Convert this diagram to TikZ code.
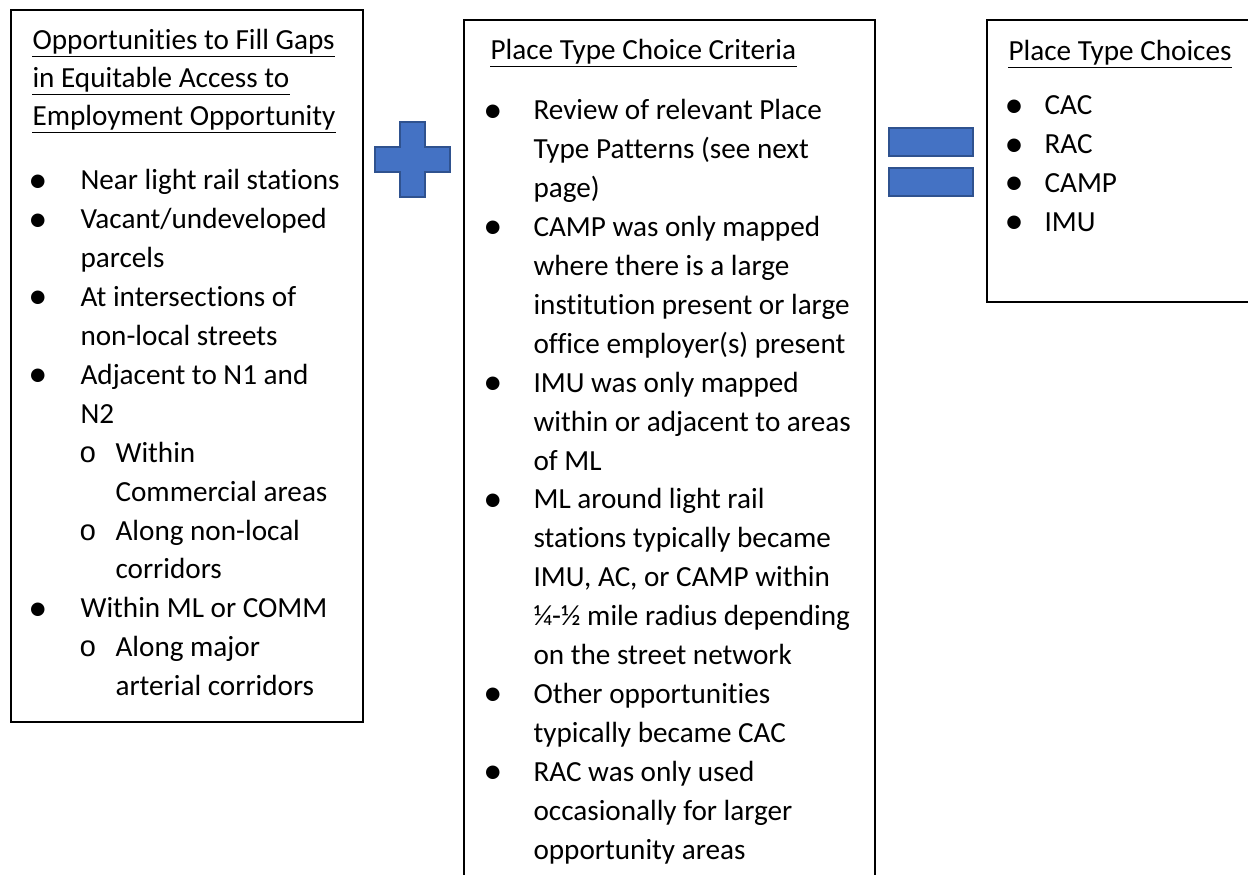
\documentclass[tikz,border=0pt]{standalone}
\usepackage{fontspec}
\setmainfont{Carlito}[Ligatures=NoCommon]
\newfontfamily\monof{Liberation Mono}
\definecolor{shapefill}{HTML}{4472C4}
\definecolor{shapeline}{HTML}{2F528F}
\newcommand\fsz{\fontsize{10.7}{13}\selectfont}
\tikzset{
  txt/.style={anchor=base west, inner sep=0pt, font=\fsz},
  bul/.style={anchor=base, inner sep=0pt, yshift=-0.8pt, font=\fontsize{14}{14}\selectfont},
  subbul/.style={anchor=base, inner sep=0pt, font=\fsz\monof},
  frame/.style={draw=black, line width=0.8pt},
  uline/.style={draw=black, line width=0.5pt},
  sym/.style={fill=shapefill, draw=shapeline, line width=0.7pt}
}
\begin{document}
\begin{tikzpicture}[x=0.3667pt,y=-0.3667pt]
\useasboundingbox (0,0) rectangle (1248,875);
\clip (0,0) rectangle (1248,875);
% frames
\draw[frame] (11,10) rectangle (363,722);
\draw[frame] (464,20) rectangle (875,900);
\draw[frame] (987,20) rectangle (1260,302);
% plus
\draw[sym] (400,122) -- (425,122) -- (425,147) -- (450,147) -- (450,172) -- (425,172) -- (425,197) -- (400,197) -- (400,172) -- (375,172) -- (375,147) -- (400,147) -- cycle;
% equals
\draw[sym] (889,128) rectangle (973,156);
\draw[sym] (889,168) rectangle (973,196);
% box 1
\node[txt] (t1a) at (32,50) {Opportunities to Fill Gaps};
\node[txt] (t1b) at (32,88) {in Equitable Access to};
\node[txt] (t1c) at (32,126) {Employment Opportunity};
\foreach \n in {t1a,t1b,t1c}{\draw[uline] ([yshift=-2.4pt]\n.base west) -- ([yshift=-2.4pt]\n.base east);}
\node[bul] (b1a) at (38,190) {\textbullet};
\node[txt] (l1a) at (80,190) {Near light rail stations};
\node[bul] (b1b) at (38,228.9) {\textbullet};
\node[txt] (l1b) at (80,228.9) {Vacant/undeveloped};
\node[txt] (l1c) at (80,267.8) {parcels};
\node[bul] (b1d) at (38,306.7) {\textbullet};
\node[txt] (l1d) at (80,306.7) {At intersections of};
\node[txt] (l1e) at (80,345.6) {non-local streets};
\node[bul] (b1f) at (38,384.5) {\textbullet};
\node[txt] (l1f) at (80,384.5) {Adjacent to N1 and};
\node[txt] (l1g) at (80,423.4) {N2};
\node[subbul] (s1h) at (88,462.3) {o};
\node[txt] (l1h) at (115,462.3) {Within};
\node[txt] (l1i) at (115,501.2) {Commercial areas};
\node[subbul] (s1j) at (88,540.1) {o};
\node[txt] (l1j) at (115,540.1) {Along non-local};
\node[txt] (l1k) at (115,579) {corridors};
\node[bul] (b1l) at (38,617.9) {\textbullet};
\node[txt] (l1l) at (80,617.9) {Within ML or COMM};
\node[subbul] (s1m) at (88,656.8) {o};
\node[txt] (l1m) at (115,656.8) {Along major};
\node[txt] (l1n) at (115,695.7) {arterial corridors};
% box 2
\node[txt] (t2) at (490,60) {Place Type Choice Criteria};
\draw[uline] ([yshift=-2.4pt]t2.base west) -- ([yshift=-2.4pt]t2.base east);
\node[bul] (b2a) at (493,120) {\textbullet};
\node[txt] (l2a) at (533,120) {Review of relevant Place};
\node[txt] (l2b) at (533,158.9) {Type Patterns (see next};
\node[txt] (l2c) at (533,197.8) {page)};
\node[bul] (b2d) at (493,236.7) {\textbullet};
\node[txt] (l2d) at (533,236.7) {CAMP was only mapped};
\node[txt] (l2e) at (533,275.6) {where there is a large};
\node[txt] (l2f) at (533,314.5) {institution present or large};
\node[txt] (l2g) at (533,353.4) {office employer(s) present};
\node[bul] (b2h) at (493,392.3) {\textbullet};
\node[txt] (l2h) at (533,392.3) {IMU was only mapped};
\node[txt] (l2i) at (533,431.2) {within or adjacent to areas};
\node[txt] (l2j) at (533,470.1) {of ML};
\node[bul] (b2k) at (493,509) {\textbullet};
\node[txt] (l2k) at (533,509) {ML around light rail};
\node[txt] (l2l) at (533,547.9) {stations typically became};
\node[txt] (l2m) at (533,586.8) {IMU, AC, or CAMP within};
\node[txt] (l2n) at (533,625.7) {¼-½ mile radius depending};
\node[txt] (l2o) at (533,664.6) {on the street network};
\node[bul] (b2p) at (493,703.5) {\textbullet};
\node[txt] (l2p) at (533,703.5) {Other opportunities};
\node[txt] (l2q) at (533,742.4) {typically became CAC};
\node[bul] (b2r) at (493,781.3) {\textbullet};
\node[txt] (l2r) at (533,781.3) {RAC was only used};
\node[txt] (l2s) at (533,820.2) {occasionally for larger};
\node[txt] (l2t) at (533,859.1) {opportunity areas};
% box 3
\node[txt] (t3) at (1008,61) {Place Type Choices};
\draw[uline] ([yshift=-2.4pt]t3.base west) -- ([yshift=-2.4pt]t3.base east);
\node[bul] (b3a) at (1014,115) {\textbullet};
\node[txt] (l3a) at (1044,115) {CAC};
\node[bul] (b3b) at (1014,153.9) {\textbullet};
\node[txt] (l3b) at (1044,153.9) {RAC};
\node[bul] (b3c) at (1014,192.8) {\textbullet};
\node[txt] (l3c) at (1044,192.8) {CAMP};
\node[bul] (b3d) at (1014,231.7) {\textbullet};
\node[txt] (l3d) at (1044,231.7) {IMU};
\end{tikzpicture}
\end{document}
